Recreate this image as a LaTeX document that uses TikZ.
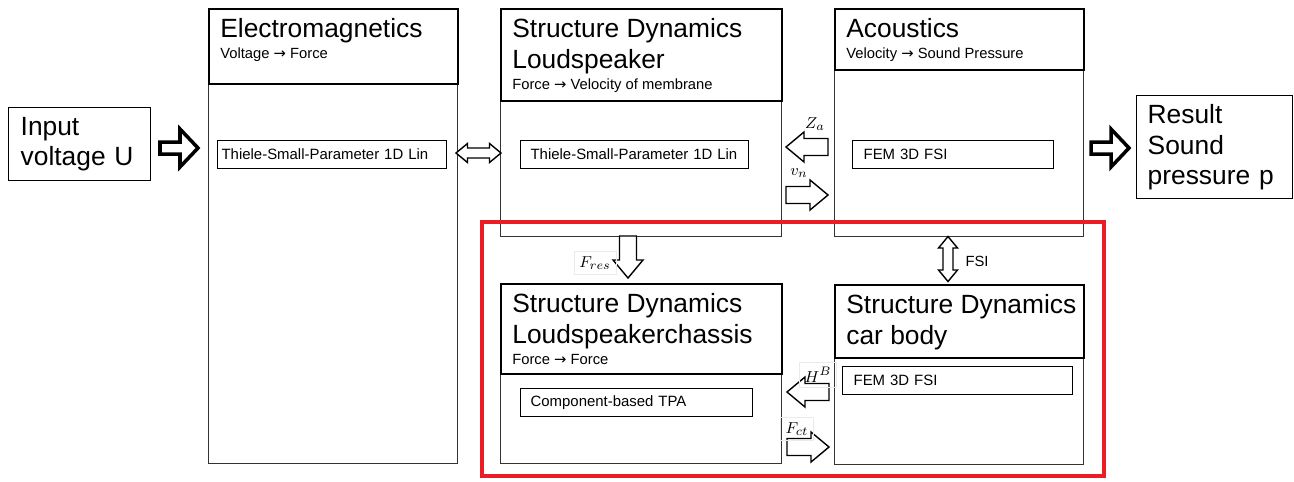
\documentclass[tikz,border=0pt]{standalone}
\usepackage{amsmath}
\usepackage{fontspec}
\setmainfont{Liberation Sans}
\newfontfamily\arrowfont{DejaVu Sans}
\usetikzlibrary{calc}
\definecolor{framered}{RGB}{236,28,36}
\newcommand{\tofont}{{\arrowfont →}}

\begin{document}
\begin{tikzpicture}[x=0.02cm,y=-0.02cm,
	colbody/.style={draw=black!80, line width=0.6pt, inner sep=0pt, anchor=north west},
	colhead/.style={draw, line width=1pt, inner sep=0pt, anchor=north west},
	coltitle/.style={anchor=north west, inner sep=0pt, align=left, text depth=0pt, font=\fontsize{15}{17.4}\selectfont},
	colsub/.style={anchor=base west, inner sep=0pt, font=\fontsize{8.4}{10}\selectfont},
	method/.style={draw, line width=0.7pt, anchor=north west, inner ysep=0pt, minimum height=0.56cm, align=left, font=\fontsize{8.5}{10}\selectfont},
	iobox/.style={draw, line width=0.8pt, anchor=north west, inner ysep=0pt, align=left, font=\fontsize{15}{17.4}\selectfont},
	qty/.style={inner sep=1pt, font=\fontsize{9.5}{10}\selectfont},
	qtybox/.style={qty, draw=black!8, line width=0.4pt, inner sep=3pt},
	openarrow/.pic={\draw[line width=0.8pt, fill=white, miter limit=4] (-21,-8.5) -- (3,-8.5) -- (3,-15) -- (21,0) -- (3,15) -- (3,8.5) -- (-21,8.5) -- cycle;},
	dblarrow/.pic={\draw[line width=0.8pt, fill=white] (-22.5,0) -- (-11,-9.5) -- (-11,-5) -- (11,-5) -- (11,-9.5) -- (22.5,0) -- (11,9.5) -- (11,5) -- (-11,5) -- (-11,9.5) -- cycle;},
	blackarrow/.pic={\draw[line width=2pt, fill=white] (-19,-6) -- (1,-6) -- (1,-19) -- (19,0) -- (1,19) -- (1,6) -- (-19,6) -- cycle;}]

	\useasboundingbox (0,0) rectangle (1294,481);

	% Input and result
	\node[iobox, inner xsep=0.24cm, text width=2.36cm, minimum height=1.46cm] (input) at (8,107) {Input\\voltage U};
	\node[iobox, inner xsep=0.22cm, text width=2.68cm, minimum height=2.06cm] (result) at (1136,95) {Result\\Sound\\pressure p};

	% Columns
	\node[colbody, minimum width=4.98cm, minimum height=9.1cm] (em) at (208,8) {};
	\node[colbody, minimum width=5.62cm, minimum height=4.56cm] (ls) at (500,8) {};
	\node[colbody, minimum width=4.98cm, minimum height=4.56cm] (ac) at (834,8) {};
	\node[colbody, minimum width=5.62cm, minimum height=3.6cm] (ch) at (500,283) {};
	\node[colbody, minimum width=4.98cm, minimum height=3.6cm] (cb) at (834,284) {};

	% Headers
	\node[colhead, minimum width=4.98cm, minimum height=1.5cm] (emh) at (208,8) {};
	\node[colhead, minimum width=5.62cm, minimum height=1.84cm] (lsh) at (500,8) {};
	\node[colhead, minimum width=4.98cm, minimum height=1.22cm] (ach) at (834,8) {};
	\node[colhead, minimum width=5.62cm, minimum height=1.8cm] (chh) at (500,283) {};
	\node[colhead, minimum width=4.98cm, minimum height=1.46cm] (cbh) at (834,284) {};

	\node[coltitle] (emt) at ($(emh.north west)+(12,10)$) {Electromagnetics};
	\node[colsub] (ems) at ($(emt.south west)+(0,21)$) {Voltage \tofont{} Force};
	\node[coltitle] (lst) at ($(lsh.north west)+(12,10)$) {Structure Dynamics\\Loudspeaker};
	\node[colsub] (lss) at ($(lst.south west)+(0,21)$) {Force \tofont{} Velocity of membrane};
	\node[coltitle] (act) at ($(ach.north west)+(12,10)$) {Acoustics};
	\node[colsub] (acs) at ($(act.south west)+(0,21)$) {Velocity \tofont{} Sound Pressure};
	\node[coltitle] (cht) at ($(chh.north west)+(12,10)$) {Structure Dynamics\\Loudspeakerchassis};
	\node[colsub] (chs) at ($(cht.south west)+(0,21)$) {Force \tofont{} Force};
	\node[coltitle] (cbt) at ($(cbh.north west)+(12,10)$) {Structure Dynamics\\car body};

	% Methods
	\node[method, inner xsep=0.08cm, text width=4.42cm] (emm) at (217,140) {Thiele-Small-Parameter 1D Lin};
	\node[method, inner xsep=0.2cm, text width=4.16cm] (lsm) at (520,140) {Thiele-Small-Parameter 1D Lin};
	\node[method, inner xsep=0.22cm, text width=3.58cm] (acm) at (852,140) {FEM 3D FSI};
	\node[method, inner xsep=0.2cm, text width=4.24cm] (chm) at (520,388) {Component-based TPA};
	\node[method, inner xsep=0.22cm, text width=4.16cm] (cbm) at (842,366) {FEM 3D FSI};

	% Coupling arrows
	\pic at (179,148) {blackarrow};
	\pic at (1110,148) {blackarrow};
	\pic at (478.5,153) {dblarrow};
	\pic[rotate=180] at (807,147) {openarrow};
	\pic at (807,195) {openarrow};
	\pic[rotate=-90] at (628,257) {openarrow};
	\pic[rotate=90] at (948,259) {dblarrow};
	\pic[rotate=180] at (808,392) {openarrow};
	\pic at (808,447) {openarrow};

	% Quantities
	\node[qty] (za) at (815,124) {$Z_a$};
	\node[qty] (vn) at (799,173) {$v_n$};
	\node[qtybox] (fres) at (595,263) {$F_{res}$};
	\node[qty, font=\fontsize{8.4}{10}\selectfont] (fsi) at (977,261) {FSI};
	\node[qtybox] (hb) at (818,375) {$H^B$};
	\node[qtybox] (fct) at (797,429) {$F_{ct}$};

	% Frame
	\draw[framered, line width=2.3pt] (482,222) rectangle (1104,476);

\end{tikzpicture}
\end{document}
